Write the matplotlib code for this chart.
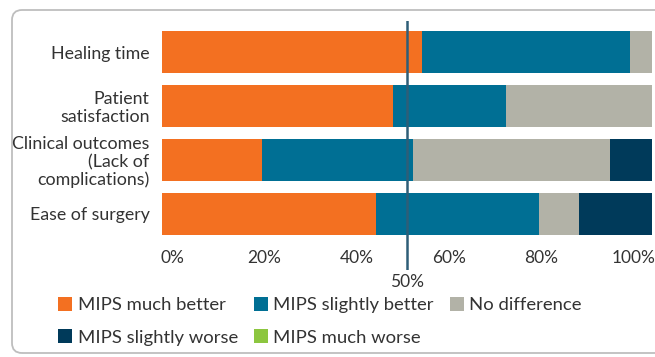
import matplotlib
matplotlib.use("Agg")
import matplotlib.pyplot as plt
from matplotlib.patches import FancyBboxPatch, Patch
from matplotlib.transforms import IdentityTransform
import numpy as np

categories = ["Healing time", "Patient\nsatisfaction",
              "Clinical outcomes\n(Lack of\ncomplications)", "Ease of surgery"]
series_names = ["MIPS much better", "MIPS slightly better", "No difference",
                "MIPS slightly worse", "MIPS much worse"]
much_better = [53.1, 47.1, 20.4, 43.7]
slightly_better = [42.4, 23.1, 30.8, 33.3]
no_difference = [4.5, 29.8, 40.2, 8.2]
slightly_worse = [0.0, 0.0, 8.6, 14.8]
much_worse = [0.0, 0.0, 0.0, 0.0]
tick_values = [0, 20, 40, 60, 80, 100]
tick_labels = ["0%", "20%", "40%", "60%", "80%", "100%"]
ref_value = 50
ref_label = "50%"

colors = ["#F37021", "#006F94", "#B2B2A7", "#003A5A", "#8CC63F"]
text_color = "#333333"

plt.rcParams["font.family"] = ["Lato", "DejaVu Sans"]

W, H = 655, 357
fig = plt.figure(figsize=(W / 100, H / 100), dpi=100)

# rounded frame
frame = FancyBboxPatch((12, H - 353), 700, 343,
                       boxstyle="round,pad=0,rounding_size=10",
                       transform=IdentityTransform(), facecolor="none",
                       edgecolor="#BEBEBE", linewidth=1.3, zorder=-1)
fig.patches.append(frame)

ax_l, ax_r = 162 / W, 652 / W
ax_top, ax_bot = 1 - 21 / H, 1 - 270 / H
ax = fig.add_axes([ax_l, ax_bot, ax_r - ax_l, ax_top - ax_bot])
ax.patch.set_alpha(0)

data = [much_better, slightly_better, no_difference, slightly_worse, much_worse]
y = np.arange(len(categories))
left = np.zeros(len(categories))
for vals, c, name in zip(data, colors, series_names):
    ax.barh(y, vals, left=left, height=0.78, color=c, label=name, zorder=2)
    left += np.array(vals)

ax.set_xlim(0, 100)
ax.set_ylim(3 + 56 / 54, -31 / 54)
ax.set_yticks(y)
ax.set_yticklabels(categories, fontsize=12.8, color=text_color, linespacing=1.12)
ax.tick_params(axis="y", length=0, pad=9)
ax.set_xticks([])
for s in ax.spines.values():
    s.set_visible(False)

# x tick labels (evenly spaced row below bars)
xtr = ax.get_xaxis_transform()
for v, lab in zip(tick_values, tick_labels):
    ax.text(2.15 + 0.94 * v, 0.048, lab, transform=xtr, ha="center", va="center",
            fontsize=12.5, color=text_color)

# 50% reference line
ax.axvline(ref_value, ymin=0, ymax=1, color="#2E5E78", linewidth=1.8, zorder=3)
ax.text(ref_value, -0.05, ref_label, transform=xtr, ha="center", va="center",
        fontsize=12.5, color=text_color)

# legend (column-major order to give row-major appearance)
order = [0, 3, 1, 4, 2]
handles = [Patch(facecolor=colors[i], edgecolor="none") for i in order]
labels = [series_names[i] for i in order]
leg = fig.legend(handles, labels, ncol=3, loc="upper left",
                 bbox_to_anchor=(58 / W, 1 - 297 / H), frameon=False,
                 fontsize=13.3, handlelength=0.77, handleheight=0.77,
                 handletextpad=0.3, columnspacing=0.85, labelspacing=0.87,
                 borderpad=0, borderaxespad=0)
for t in leg.get_texts():
    t.set_color(text_color)

fig.savefig("out.png", dpi=100)
